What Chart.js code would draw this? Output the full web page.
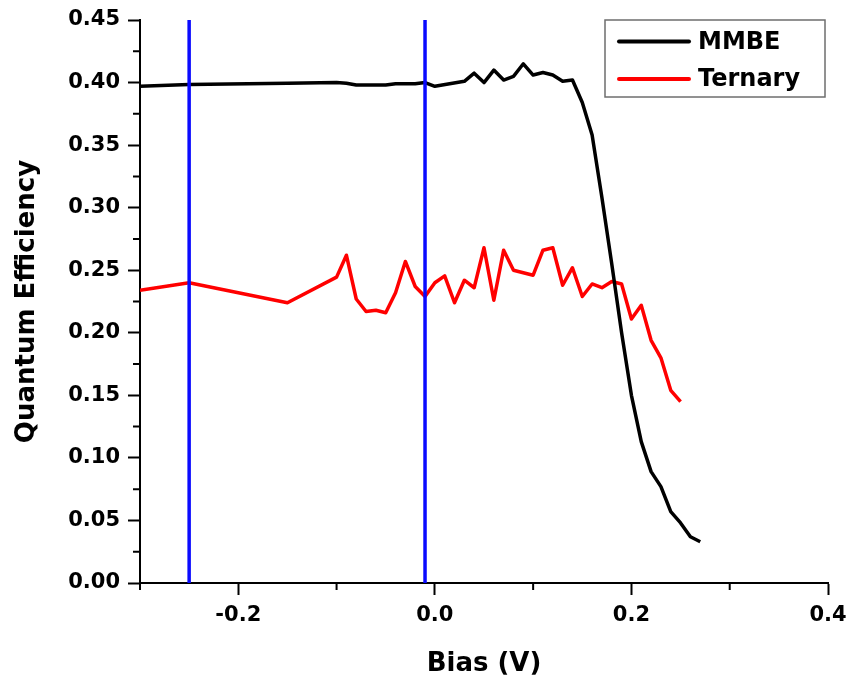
<!DOCTYPE html>
<html>
<head>
<meta charset="utf-8">
<script src="https://cdn.jsdelivr.net/npm/chart.js@4.4.1/dist/chart.umd.min.js"></script>
<style>
  html, body { margin: 0; padding: 0; background: #fff; }
  #wrap { width: 849px; height: 682px; }
</style>
</head>
<body>
<div id="wrap"><canvas id="qe" width="849" height="682"></canvas></div>
<script>
// values
const mmbeBias = [-0.30, -0.25, -0.15, -0.10, -0.09, -0.08, -0.07, -0.06, -0.05, -0.04, -0.03, -0.02, -0.01,
  0.00, 0.03, 0.04, 0.05, 0.06, 0.07, 0.08, 0.09, 0.10, 0.11, 0.12, 0.13, 0.14, 0.15, 0.16, 0.17, 0.18,
  0.19, 0.20, 0.21, 0.22, 0.23, 0.24, 0.25, 0.26, 0.27];
const mmbeQE = [0.397, 0.3985, 0.3995, 0.400, 0.3995, 0.398, 0.398, 0.398, 0.398, 0.399, 0.399, 0.399, 0.400,
  0.397, 0.401, 0.4075, 0.400, 0.410, 0.402, 0.405, 0.415, 0.406, 0.408, 0.406, 0.401, 0.402, 0.384, 0.358, 0.308, 0.255,
  0.200, 0.150, 0.113, 0.089, 0.077, 0.057, 0.048, 0.037, 0.033];

const ternaryBias = [-0.30, -0.25, -0.15, -0.10, -0.09, -0.08, -0.07, -0.06, -0.05, -0.04, -0.03, -0.02, -0.01,
  0.00, 0.01, 0.02, 0.03, 0.04, 0.05, 0.06, 0.07, 0.08, 0.10, 0.11, 0.12, 0.13, 0.14, 0.15, 0.16, 0.17,
  0.18, 0.19, 0.20, 0.21, 0.22, 0.23, 0.24, 0.25];
const ternaryQE = [0.234, 0.240, 0.224, 0.2445, 0.262, 0.227, 0.217, 0.218, 0.216, 0.232, 0.257, 0.237, 0.229,
  0.240, 0.2455, 0.224, 0.242, 0.236, 0.268, 0.226, 0.266, 0.250, 0.246, 0.266, 0.268, 0.238, 0.252, 0.229, 0.239, 0.236,
  0.241, 0.239, 0.211, 0.222, 0.194, 0.180, 0.154, 0.145];

const markerBias = [-0.25, -0.01];

const xMajorTicks = [-0.2, 0.0, 0.2, 0.4];
const xMinorTicks = [-0.3, -0.1, 0.1, 0.3];
const yMajorTicks = [0.00, 0.05, 0.10, 0.15, 0.20, 0.25, 0.30, 0.35, 0.40, 0.45];
const yMinorTicks = [0.025, 0.075, 0.125, 0.175, 0.225, 0.275, 0.325, 0.375, 0.425];

const toPoints = (xs, ys) => xs.map((x, i) => ({ x, y: ys[i] }));

const FONT = "'DejaVu Sans', 'Liberation Sans', Arial, sans-serif";
const tickFont = { family: FONT, size: 21, weight: 'bold' };
const titleFont = { family: FONT, size: 26, weight: 'bold' };

// vertical blue markers first so they are drawn on top
const markerSets = markerBias.map(b => ({
  label: '',
  data: [{ x: b, y: yMajorTicks[0] }, { x: b, y: yMajorTicks[yMajorTicks.length - 1] }],
  borderColor: '#0a0aff',
  borderWidth: 3.5,
  pointRadius: 0,
  inLegend: false
}));

const extras = {
  id: 'extras',
  afterDraw(chart) {
    const { ctx, chartArea: a, scales: { x, y } } = chart;
    ctx.save();
    // minor ticks
    ctx.strokeStyle = '#000';
    ctx.lineWidth = 2;
    ctx.beginPath();
    xMinorTicks.forEach(v => {
      const px = x.getPixelForValue(v);
      ctx.moveTo(px, a.bottom);
      ctx.lineTo(px, a.bottom + 7);
    });
    yMinorTicks.forEach(v => {
      const py = y.getPixelForValue(v);
      ctx.moveTo(a.left, py);
      ctx.lineTo(a.left - 7, py);
    });
    ctx.stroke();

    // boxed legend, top right inside the plot
    const items = chart.data.datasets.filter(d => d.inLegend !== false);
    const bx = a.right - 223, by = a.top, bw = 220, bh = 77;
    ctx.fillStyle = '#fff';
    ctx.fillRect(bx, by, bw, bh);
    ctx.strokeStyle = '#6e6e6e';
    ctx.lineWidth = 1.5;
    ctx.strokeRect(bx, by, bw, bh);
    ctx.font = `bold 24px ${FONT}`;
    ctx.textBaseline = 'middle';
    items.forEach((d, i) => {
      const ly = by + 21.5 + i * 37.5;
      ctx.strokeStyle = d.borderColor;
      ctx.lineWidth = 4;
      ctx.lineCap = 'round';
      ctx.beginPath();
      ctx.moveTo(bx + 14, ly);
      ctx.lineTo(bx + 84, ly);
      ctx.stroke();
      ctx.fillStyle = '#000';
      ctx.fillText(d.label, bx + 93, ly + 1);
    });
    ctx.restore();
  }
};

new Chart(document.getElementById('qe').getContext('2d'), {
  type: 'line',
  data: {
    datasets: [
      ...markerSets,
      { label: 'MMBE', data: toPoints(mmbeBias, mmbeQE), borderColor: '#000000', borderWidth: 3.5, pointRadius: 0, tension: 0, borderJoinStyle: 'round' },
      { label: 'Ternary', data: toPoints(ternaryBias, ternaryQE), borderColor: '#ff0000', borderWidth: 3.5, pointRadius: 0, tension: 0, borderJoinStyle: 'round' }
    ]
  },
  options: {
    responsive: false,
    animation: false,
    layout: { padding: { top: 20, right: 21, left: 0, bottom: 0 } },
    plugins: { legend: { display: false }, tooltip: { enabled: false } },
    scales: {
      x: {
        type: 'linear',
        min: -0.3,
        max: 0.4,
        afterBuildTicks: s => { s.ticks = xMajorTicks.map(v => ({ value: v })); },
        afterFit: s => { s.height = 99; s.paddingLeft = 0; s.paddingRight = 0; },
        grid: { drawOnChartArea: false, drawTicks: true, tickLength: 12, tickWidth: 2, tickColor: '#000' },
        border: { display: true, color: '#000', width: 2 },
        ticks: { color: '#000', font: tickFont, padding: 8, maxRotation: 0, callback: v => v.toFixed(1) },
        title: { display: true, text: 'Bias (V)', color: '#000', font: titleFont, padding: { top: 0, bottom: 2 } }
      },
      y: {
        type: 'linear',
        min: 0,
        max: 0.45,
        afterBuildTicks: s => { s.ticks = yMajorTicks.map(v => ({ value: v })); },
        afterFit: s => { s.width = 140; s.paddingTop = 0; s.paddingBottom = 0; },
        grid: { drawOnChartArea: false, drawTicks: true, tickLength: 12, tickWidth: 2, tickColor: '#000' },
        border: { display: true, color: '#000', width: 2 },
        ticks: { color: '#000', font: tickFont, padding: 8, callback: v => v.toFixed(2) },
        title: { display: true, text: 'Quantum Efficiency', color: '#000', font: titleFont, padding: { top: 12, bottom: 0 } }
      }
    }
  },
  plugins: [extras]
});
</script>
</body>
</html>
